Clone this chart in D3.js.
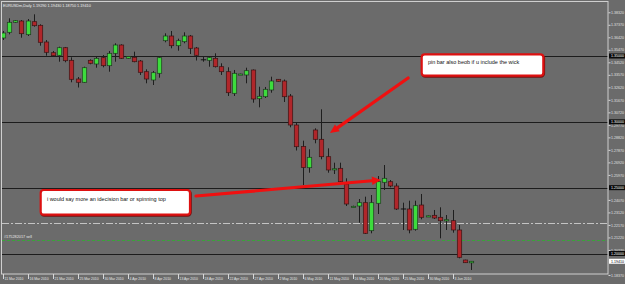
<!DOCTYPE html>
<html><head><meta charset="utf-8">
<script src="https://cdn.jsdelivr.net/npm/d3@7"></script>
<style>
html,body{margin:0;padding:0;background:#6b6b6b;}
svg{display:block;}
text{font-family:"Liberation Sans",Arial,sans-serif;}
</style>
</head><body>
<svg id="chart" width="625" height="284"></svg>
<script>
// ---- data ----
const symbolTitle = "EURUSDm,Daily";
const dates = ["2010-03-11","2010-03-12","2010-03-14","2010-03-15","2010-03-16","2010-03-17","2010-03-18","2010-03-19","2010-03-21","2010-03-22",
"2010-03-23","2010-03-24","2010-03-25","2010-03-26","2010-03-28","2010-03-29","2010-03-30","2010-03-31","2010-04-01","2010-04-02",
"2010-04-04","2010-04-05","2010-04-06","2010-04-07","2010-04-08","2010-04-09","2010-04-11","2010-04-12","2010-04-13","2010-04-14",
"2010-04-15","2010-04-16","2010-04-18","2010-04-19","2010-04-20","2010-04-21","2010-04-22","2010-04-23","2010-04-25","2010-04-26",
"2010-04-27","2010-04-28","2010-04-29","2010-04-30","2010-05-02","2010-05-03","2010-05-04","2010-05-05","2010-05-06","2010-05-07",
"2010-05-09","2010-05-10","2010-05-11","2010-05-12","2010-05-13","2010-05-14","2010-05-16","2010-05-17","2010-05-18","2010-05-19",
"2010-05-20","2010-05-21","2010-05-23","2010-05-24","2010-05-25","2010-05-26","2010-05-27","2010-05-28","2010-05-30","2010-05-31",
"2010-06-01","2010-06-02","2010-06-03","2010-06-04","2010-06-06","2010-06-07"];

const open = [1.36367,1.36800,1.37560,1.37658,1.36618,1.37605,1.37332,1.36063,1.35251,1.35053,
1.35630,1.34673,1.33253,1.33003,1.34673,1.34392,1.34871,1.34263,1.35205,1.35835,
1.34825,1.34901,1.34620,1.33808,1.33177,1.33686,1.36162,1.36519,1.35782,1.36086,
1.36519,1.35608,1.34711,1.34673,1.34825,1.34187,1.33808,1.32167,1.33580,1.33557,
1.33937,1.31757,1.31909,1.32418,1.33230,1.33101,1.31962,1.29759,1.28127,1.26516,
1.29380,1.28673,1.27352,1.26395,1.26471,1.25278,1.23532,1.23607,1.23858,1.21732,
1.23813,1.25408,1.25453,1.25126,1.23380,1.23380,1.21838,1.23683,1.22810,1.22901,
1.22749,1.22521,1.22491,1.21785,1.19506,1.19290];

const high = [1.36899,1.37863,1.37734,1.37734,1.37810,1.38167,1.37408,1.36215,1.35380,1.35706,
1.35684,1.34901,1.33405,1.34187,1.34749,1.34947,1.35076,1.35380,1.35965,1.35889,
1.34977,1.35327,1.34696,1.33990,1.33861,1.35000,1.36724,1.36899,1.36314,1.36800,
1.36595,1.35684,1.34947,1.34947,1.35205,1.34446,1.34142,1.33937,1.33656,1.34111,
1.33975,1.32668,1.32646,1.33428,1.33253,1.33215,1.32114,1.29934,1.28567,1.27914,
1.29509,1.30952,1.27990,1.26896,1.26896,1.25711,1.23630,1.24139,1.24314,1.24443,
1.25886,1.26721,1.25582,1.25332,1.23858,1.24010,1.24010,1.24519,1.22886,1.23304,
1.23509,1.22924,1.23304,1.22164,1.19529,1.19430];

const low = [1.36215,1.36648,1.37506,1.36390,1.36519,1.37225,1.35782,1.35023,1.35000,1.34567,
1.34522,1.33003,1.32608,1.32972,1.34370,1.34111,1.34142,1.33808,1.34567,1.34772,
1.34795,1.34522,1.33557,1.32927,1.32797,1.33352,1.36041,1.35585,1.35403,1.35965,
1.35152,1.34658,1.34567,1.34187,1.34127,1.33557,1.31962,1.31962,1.33557,1.32927,
1.31453,1.31104,1.31810,1.32213,1.33048,1.31506,1.29585,1.27823,1.25202,1.26137,
1.28370,1.27154,1.26137,1.26038,1.25317,1.23607,1.23507,1.22339,1.21481,1.21534,
1.23000,1.24823,1.25028,1.23304,1.21785,1.21534,1.21732,1.22597,1.22772,1.22620,
1.21154,1.21785,1.21580,1.19635,1.19278,1.18750];

const close = [1.36747,1.37560,1.37681,1.36694,1.37658,1.37301,1.36041,1.35281,1.35023,1.35630,
1.34643,1.33230,1.33003,1.34111,1.34446,1.34825,1.34263,1.35205,1.35835,1.34825,
1.34947,1.34567,1.33762,1.33253,1.33732,1.34871,1.36519,1.35782,1.36162,1.36519,
1.35585,1.35053,1.34711,1.34871,1.34187,1.33808,1.32213,1.33686,1.33633,1.33884,
1.31734,1.31939,1.32471,1.33101,1.33078,1.31909,1.29759,1.28111,1.26532,1.27306,
1.28673,1.27352,1.26342,1.26440,1.25453,1.23759,1.23585,1.23858,1.21534,1.23858,
1.25453,1.25711,1.25126,1.23380,1.23380,1.21785,1.23630,1.22749,1.22863,1.22696,
1.22491,1.22567,1.21785,1.19711,1.19301,1.19410];

const priceTicks = [1.38320,1.37370,1.36420,1.35470,1.34520,1.33570,1.32620,1.31670,1.30720,1.29770,
1.28820,1.27870,1.26920,1.25970,1.24070,1.23120,1.22170,1.21220,1.20270,1.18370];
const levelLines = [1.35, 1.30, 1.25, 1.20];
const stopLevel = 1.2232;     // dash-dot grey line
const orderLevel = 1.2103;    // green dashed order line
const orderLabel = "#175282017 sell";
const dateTickIdx = [0,4,8,12,16,20,24,28,32,36,40,44,48,52,56,60,64,68,72];
const dateTickLabels = ["11 Mar 2010","16 Mar 2010","21 Mar 2010","25 Mar 2010","30 Mar 2010","4 Apr 2010","8 Apr 2010","13 Apr 2010",
"18 Apr 2010","22 Apr 2010","27 Apr 2010","2 May 2010","6 May 2010","11 May 2010","16 May 2010","20 May 2010","25 May 2010","30 May 2010","3 Jun 2010"];

// annotations (in bar-index / price space)
const notes = [
  {text:"pin bar also beob if u include the wick", box:[67.07,86.53,1.35129,1.33504], from:[64.9,1.33329], to:[52.4,1.29152]},
  {text:"i would say more an idecision bar or spinning top", box:[6.11,30.0,1.24823,1.22947], from:[30.96,1.24367], to:[60.56,1.25582]}
];

// ---- drawing ----
const W = 625, H = 284;
const plot = {l:2, r:608, t:2, b:274};
const svg = d3.select("#chart");
const x = d3.scaleLinear().domain([0, dates.length-1]).range([2.5, 471.25]);
const y = d3.scaleLinear().domain([1.20, 1.35]).range([253.5, 56]);

svg.append("rect").attr("width",W).attr("height",H).attr("fill","#6b6b6b");
svg.append("defs").append("clipPath").attr("id","clip")
  .append("rect").attr("x",plot.l).attr("y",plot.t).attr("width",plot.r-plot.l).attr("height",plot.b-plot.t);

const g = svg.append("g").attr("clip-path","url(#clip)");

// horizontal levels
g.selectAll("line.lvl").data(levelLines).join("line")
  .attr("x1",plot.l).attr("x2",plot.r)
  .attr("y1",d=>Math.round(y(d))+0.5).attr("y2",d=>Math.round(y(d))+0.5)
  .attr("stroke","#1c1c1c").attr("stroke-width",1);
g.append("line").attr("x1",plot.l).attr("x2",plot.r)
  .attr("y1",Math.round(y(stopLevel))+0.5).attr("y2",Math.round(y(stopLevel))+0.5)
  .attr("stroke","#c4c4c4").attr("stroke-width",1).attr("stroke-dasharray","7,2,2,2");
g.append("line").attr("x1",plot.l).attr("x2",plot.r)
  .attr("y1",Math.round(y(orderLevel))+0.5).attr("y2",Math.round(y(orderLevel))+0.5)
  .attr("stroke","#3aa33a").attr("stroke-width",1).attr("stroke-dasharray","3,2");
g.append("text").attr("x",4).attr("y",y(orderLevel)-1.5).attr("font-size",3.8)
  .attr("fill","#e6e6e6").text(orderLabel);

// candles
const idx = d3.range(dates.length);
const bw = 4.4;
g.selectAll("line.wick").data(idx).join("line")
  .attr("x1",i=>Math.round(x(i))+0.5).attr("x2",i=>Math.round(x(i))+0.5)
  .attr("y1",i=>y(high[i])).attr("y2",i=>y(low[i]))
  .attr("stroke","#1e1e1e").attr("stroke-width",1);
g.selectAll("rect.body").data(idx.filter(i=>open[i]!==close[i])).join("rect")
  .attr("x",i=>Math.round(x(i))+0.5-bw/2).attr("width",bw)
  .attr("y",i=>y(Math.max(open[i],close[i])))
  .attr("height",i=>Math.max(1.2,Math.abs(y(open[i])-y(close[i]))))
  .attr("fill",i=>close[i]>open[i]?"#3ddc3d":"#b0262a")
  .attr("stroke",i=>close[i]>open[i]?"#1f3a1f":"#3a1515").attr("stroke-width",0.7);
g.selectAll("line.doji").data(idx.filter(i=>open[i]===close[i])).join("line")
  .attr("x1",i=>Math.round(x(i))+0.5-bw/2-0.5).attr("x2",i=>Math.round(x(i))+0.5+bw/2+0.5)
  .attr("y1",i=>y(open[i])).attr("y2",i=>y(open[i]))
  .attr("stroke","#111").attr("stroke-width",1);

// annotations
notes.forEach(n=>{
  const x1=x(n.from[0]), y1=y(n.from[1]), x2=x(n.to[0]), y2=y(n.to[1]);
  const ang=Math.atan2(y2-y1,x2-x1), L=9, Wd=4.2;
  const bx=x2-L*Math.cos(ang), by=y2-L*Math.sin(ang);
  g.append("line").attr("x1",x1).attr("y1",y1).attr("x2",bx).attr("y2",by)
    .attr("stroke","#f01010").attr("stroke-width",3.2).attr("stroke-linecap","round");
  g.append("path").attr("d",`M${x2},${y2}L${bx+Wd*Math.sin(ang)},${by-Wd*Math.cos(ang)}L${bx-Wd*Math.sin(ang)},${by+Wd*Math.cos(ang)}Z`)
    .attr("fill","#f01010");
  const rx0=x(n.box[0]), rx1=x(n.box[1]), ry0=y(n.box[2]), ry1=y(n.box[3]);
  g.append("rect").attr("x",rx0+0.6).attr("y",ry0+0.8).attr("width",rx1-rx0).attr("height",ry1-ry0)
    .attr("rx",3).attr("fill","none").attr("stroke","#7a1010").attr("stroke-width",2.4);
  g.append("rect").attr("x",rx0).attr("y",ry0).attr("width",rx1-rx0).attr("height",ry1-ry0)
    .attr("rx",3).attr("fill","#ffffff").attr("stroke","#dd1111").attr("stroke-width",2.2);
  g.append("text").attr("x",rx0+6.2).attr("y",ry0+(ry1-ry0)/2-1.0).attr("font-size",5.5)
    .attr("fill","#111").text(n.text);
});

// frame
svg.append("rect").attr("x",1.5).attr("y",1.5).attr("width",plot.r-1.5).attr("height",plot.b-1.5)
  .attr("fill","none").attr("stroke","#cfcfcf").attr("stroke-width",1);

// header
svg.append("text").attr("x",3).attr("y",6.8).attr("font-size",3.8).attr("fill","#eeeeee")
  .text(symbolTitle+"  "+[open[75],high[75],low[75],close[75]].map(d3.format(".5f")).join(" "));

// right price axis
const ax = svg.append("g").attr("transform",`translate(${plot.r+0.5},0)`)
  .call(d3.axisRight(y).tickValues(priceTicks).tickSize(2).tickFormat(d3.format(".5f")));
ax.select(".domain").remove();
ax.selectAll(".tick line").attr("stroke","#d8d8d8");
ax.selectAll(".tick text").attr("fill","#e0e0e0").attr("font-size",3.6).attr("x",2.5)
  .attr("font-family","Liberation Sans, Arial, sans-serif");

// level boxes
const lb = svg.append("g");
levelLines.forEach(v=>{
  lb.append("rect").attr("x",609).attr("y",y(v)-2.5).attr("width",16).attr("height",5).attr("fill","#0a0a0a");
  lb.append("text").attr("x",611).attr("y",y(v)+1.3).attr("font-size",3.6).attr("fill","#fff").text(d3.format(".5f")(v));
});
lb.append("rect").attr("x",609).attr("y",y(close[75])-2.5).attr("width",16).attr("height",5).attr("fill","#ffffff");
lb.append("text").attr("x",611).attr("y",y(close[75])+1.3).attr("font-size",3.6).attr("fill","#000").text(d3.format(".5f")(close[75]));

// date axis
const dg = svg.append("g");
dg.selectAll("line").data(dateTickIdx).join("line")
  .attr("x1",i=>Math.round(x(i))+0.5).attr("x2",i=>Math.round(x(i))+0.5)
  .attr("y1",plot.b).attr("y2",plot.b+5).attr("stroke","#d8d8d8");
dg.selectAll("text").data(dateTickIdx).join("text")
  .attr("x",(i)=>Math.max(3,x(i)+2)).attr("y",280.3).attr("font-size",3.4).attr("fill","#e6e6e6")
  .text((i,k)=>dateTickLabels[k]);
</script>
</body></html>
